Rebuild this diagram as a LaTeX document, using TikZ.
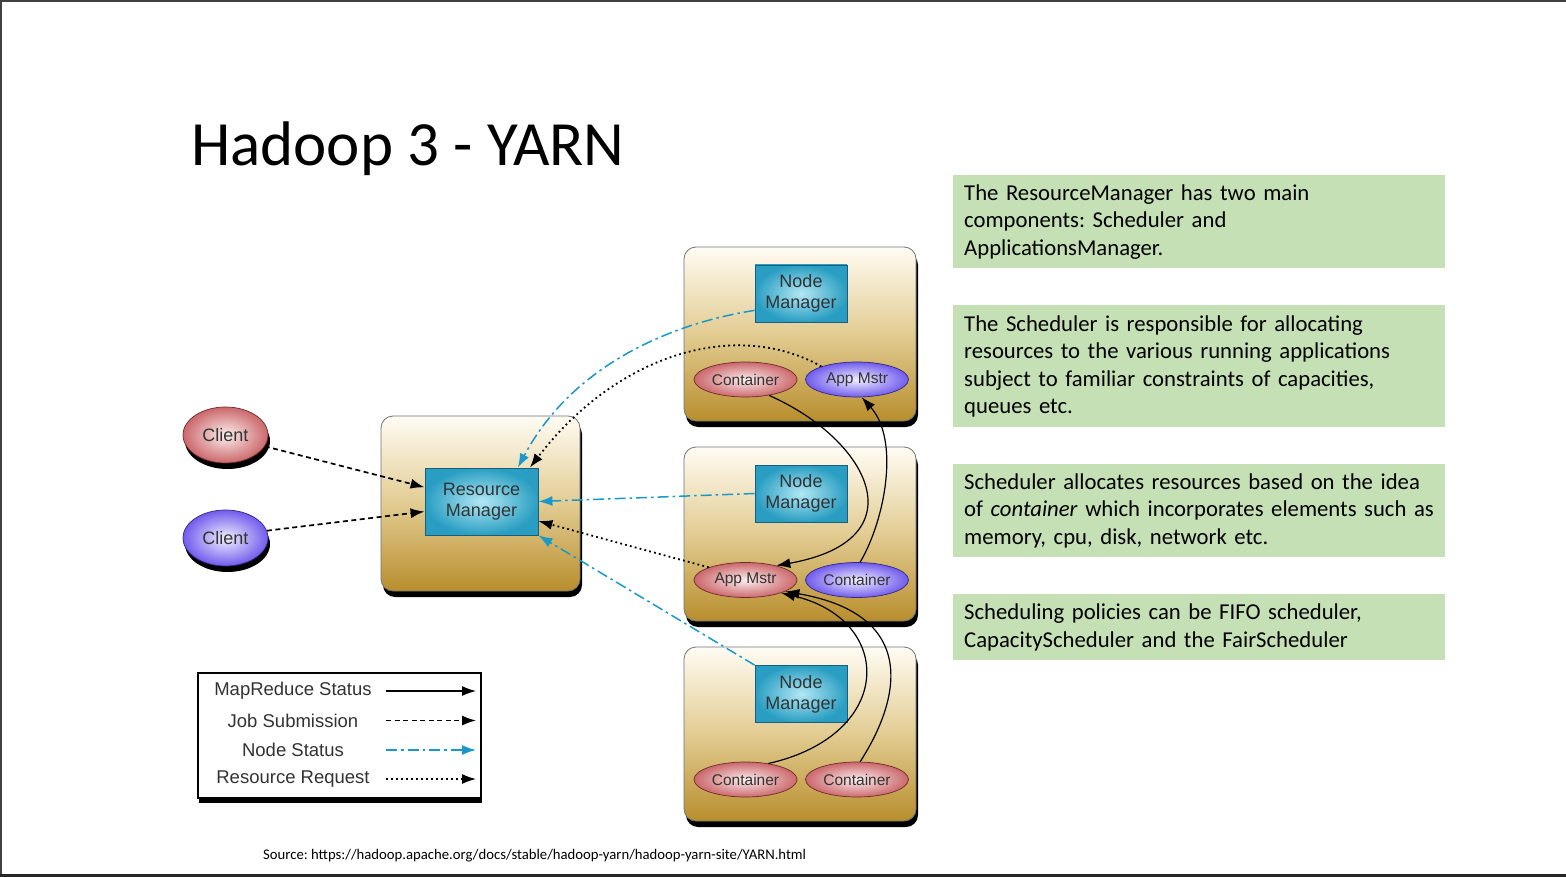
\documentclass[tikz,border=0pt]{standalone}
\usepackage{fontspec}
\setmainfont{Carlito}
\newfontfamily\diagfont{Liberation Sans}
\usetikzlibrary{arrows.meta,positioning,shadows,shapes.geometric}
\frenchspacing

\definecolor{boxtop}{RGB}{255,252,244}
\definecolor{boxmid}{RGB}{226,204,146}
\definecolor{boxbot}{RGB}{184,142,45}
\definecolor{mgrin}{RGB}{178,232,244}
\definecolor{mgrout}{RGB}{42,158,194}
\definecolor{mgrline}{RGB}{25,95,125}
\definecolor{pinkin}{RGB}{252,238,238}
\definecolor{pinkout}{RGB}{203,104,108}
\definecolor{pinkline}{RGB}{110,45,45}
\definecolor{purpin}{RGB}{242,240,255}
\definecolor{purpout}{RGB}{112,92,236}
\definecolor{purpline}{RGB}{55,38,135}
\definecolor{nsblue}{RGB}{25,152,202}
\definecolor{notegreen}{RGB}{197,224,180}

\tikzset{
  outerbox/.style={draw=black!55,line width=0.8pt,rounded corners=12pt,
    minimum width=232pt,minimum height=174pt,
    top color=boxtop,bottom color=boxbot,middle color=boxmid,
    drop shadow={shadow xshift=2pt,shadow yshift=-6pt,opacity=1,fill=black}},
  mgr/.style={draw=mgrline,line width=0.8pt,inner color=mgrin,outer color=mgrout,
    minimum width=92pt,minimum height=57pt,inner sep=0pt,align=center,
    text=black!80,font=\diagfont\fontsize{18}{21}\selectfont},
  pinkell/.style={ellipse,draw=pinkline,line width=0.7pt,inner color=pinkin,outer color=pinkout,
    minimum width=103pt,minimum height=35pt,inner sep=0pt,
    text=black!80,font=\diagfont\fontsize{15.5}{18}\selectfont},
  purpell/.style={pinkell,draw=purpline,inner color=purpin,outer color=purpout},
  client/.style={ellipse,minimum width=85pt,minimum height=56pt,inner sep=0pt,
    line width=0.7pt,text=black!80,font=\diagfont\fontsize{18}{21}\selectfont,
    drop shadow={shadow xshift=2pt,shadow yshift=-6pt,opacity=1,fill=black}},
  note/.style={fill=notegreen,anchor=north west,text width=470pt,inner xsep=11pt,
    align=left,font=\fontsize{22.7}{27.5}\selectfont},
  legtxt/.style={text=black!80,font=\diagfont\fontsize{18.5}{21}\selectfont},
  mrstat/.style={-{Latex[length=14pt,width=10pt]},line width=1.2pt},
  jobsub/.style={mrstat,line width=1.7pt,dash pattern=on 5pt off 3.5pt},
  nodestat/.style={mrstat,draw=nsblue,line width=1.5pt,dash pattern=on 11pt off 4pt on 2.5pt off 4pt},
  resreq/.style={mrstat,line width=1.8pt,dash pattern=on 1.8pt off 3.2pt}
}

\begin{document}
\begin{tikzpicture}[x=1pt,y=-1pt]
        % Slide background and borders
        \fill[white] (0,0) rectangle (1566,877);
        \useasboundingbox (0,0) rectangle (1566,877);
        \fill[black!75] (0,0) rectangle (1566,2);
        \fill[black!75] (0,0) rectangle (2,877);
        \fill[black!85] (0,874) rectangle (1566,877);

        % Title and source
        \node[anchor=base west,inner sep=0pt,font=\fontsize{63}{70}\selectfont] (title) at (191,166) {Hadoop 3 - YARN};
        \node[anchor=base west,inner sep=0pt,font=\fontsize{14.7}{16}\selectfont] (src) at (263,859) {Source: https://hadoop.apache.org/docs/stable/hadoop-yarn/hadoop-yarn-site/YARN.html};

        % Notes on the right
        \node[note,minimum height=93pt] (note1) at (953,175) {The ResourceManager has two main\\components: Scheduler and\\ApplicationsManager.};
        \node[note,minimum height=122pt] (note2) at (953,305) {The Scheduler is responsible for allocating\\resources to the various running applications\\subject to familiar constraints of capacities,\\queues etc.};
        \node[note,minimum height=93pt] (note3) at (953,464) {Scheduler allocates resources based on the idea\\of \textit{container} which incorporates elements such as\\memory, cpu, disk, network etc.};
        \node[note,minimum height=66pt] (note4) at (953,594) {Scheduling policies can be FIFO scheduler,\\CapacityScheduler and the FairScheduler};

        % Outer boxes
        \node[outerbox,minimum width=199pt,minimum height=175pt] (rmBox) at (480.5,503.5) {};
        \node[outerbox] (nodeBox1) at (800,334) {};
        \node[outerbox] (nodeBox2) at (800,534) {};
        \node[outerbox] (nodeBox3) at (800,734) {};

        % Clients
        \node[client,inner color=pinkin,outer color=pinkout,draw=pinkline] (client1) at (225.5,435) {Client};
        \node[client,inner color=purpin,outer color=purpout,draw=purpline] (client2) at (225.5,538) {Client};

        % Managers
        \node[mgr,minimum width=113pt,minimum height=67pt] (rmIn) at (481.5,501.5) {Resource\\Manager};
        \node[mgr] (nm1) at (801,293.5) {Node\\Manager};
        \node[mgr] (nm2) at (801,493.5) {Node\\Manager};
        \node[mgr] (nm3) at (801,694) {Node\\Manager};

        % Containers and application masters
        \node[pinkell] (cont1) at (745.5,379.5) {Container};
        \node[purpell] (appMstr1) at (857,379.5) {App Mstr};
        \node[pinkell] (appMstr2) at (745.5,580) {App Mstr};
        \node[purpell] (cont2) at (857,580) {Container};
        \node[pinkell] (cont3a) at (745.5,779.5) {Container};
        \node[pinkell] (cont3b) at (857,779.5) {Container};

        % Job submission
        \draw[jobsub] (client1.-16) -- (rmIn.166);
        \draw[jobsub] (client2.10) -- (rmIn.190);

        % Node status
        \draw[nodestat] (nm1.200) .. controls (680,322) and (575,360) .. (rmIn.43);
        \draw[nodestat] (nm2.west) -- (rmIn.east);
        \draw[nodestat] (nm3.north west) -- (rmIn.south east);

        % Resource requests
        \draw[resreq] (appMstr1.160) .. controls (740,320) and (620,350) .. (rmIn.35);
        \draw[resreq] (appMstr2.161) -- (rmIn.-19);

        % MapReduce status
        \draw[mrstat] (cont1.-34) .. controls (870,440) and (920,540) .. (appMstr2.25);
        \draw[mrstat] (cont2.80) .. controls (885,520) and (900,440) .. (appMstr1.-75);
        \draw[mrstat] (cont3a.35) .. controls (895,735) and (895,620) .. (appMstr2.-20);
        \draw[mrstat] (cont3b.80) .. controls (900,700) and (920,615) .. (appMstr2.-16);

        % Legend
        \node[draw=black,line width=1.5pt,fill=white,minimum width=283pt,minimum height=125pt,
              drop shadow={shadow xshift=1pt,shadow yshift=-5pt,opacity=1,fill=black}] (legend) at (339.5,735.5) {};
        \node[legtxt] (lgMR) at (293,691) {MapReduce Status};
        \node[legtxt] (lgJS) at (293,720.5) {Job Submission};
        \node[legtxt] (lgNS) at (293,750) {Node Status};
        \node[legtxt] (lgRR) at (293,779) {Resource Request};
        \coordinate (lgMRa) at (386,691);  \coordinate (lgMRb) at (476,691);
        \coordinate (lgJSa) at (386,720.5); \coordinate (lgJSb) at (476,720.5);
        \coordinate (lgNSa) at (386,750);  \coordinate (lgNSb) at (476,750);
        \coordinate (lgRRa) at (386,779);  \coordinate (lgRRb) at (476,779);
        \draw[mrstat] (lgMRa) -- (lgMRb);
        \draw[jobsub,line width=1.3pt] (lgJSa) -- (lgJSb);
        \draw[nodestat,line width=1.3pt] (lgNSa) -- (lgNSb);
        \draw[resreq,line width=1.3pt] (lgRRa) -- (lgRRb);
\end{tikzpicture}
\end{document}
